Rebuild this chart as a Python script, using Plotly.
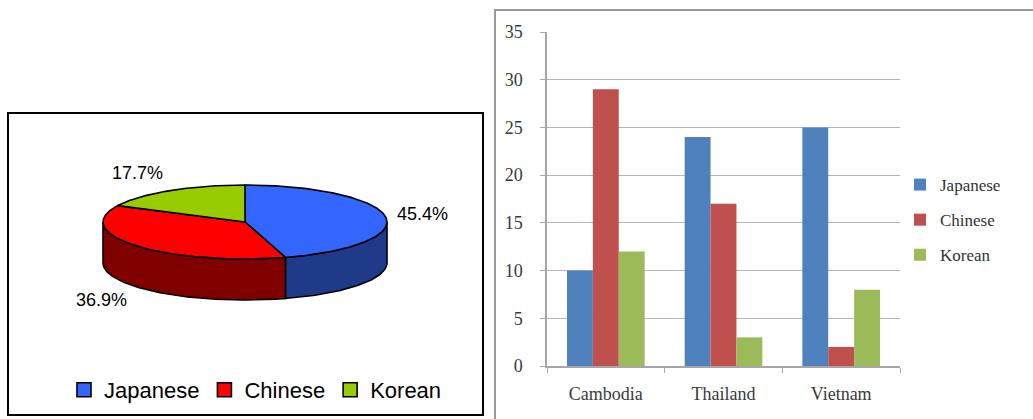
import numpy as np
import plotly.graph_objects as go

# ---------------- data ----------------
languages = ["Japanese", "Chinese", "Korean"]
share_pct = [45.4, 36.9, 17.7]
pie_top_colors = ["#3366FF", "#FF0000", "#99CC00"]
pie_side_colors = ["#1F3A88", "#800000", "#4D6600"]

countries = ["Cambodia", "Thailand", "Vietnam"]
japanese_vals = [10, 24, 25]
chinese_vals = [29, 17, 2]
korean_vals = [12, 3, 8]
bar_colors = ["#4F81BD", "#C0504D", "#9BBB59"]
y_tick_vals = [0, 5, 10, 15, 20, 25, 30, 35]

W, H = 1033, 419

fig = go.Figure()

# ---------------- 3D-look pie (pixel-space axes x/y) ----------------
CX, CY, RX, RY, DEPTH = 245, 222, 142, 37, 41


def ell(theta_deg, dy=0.0):
    t = np.radians(theta_deg)
    return CX + RX * np.cos(t), CY - RY * np.sin(t) + dy


total = sum(share_pct)
bounds = []
a = 90.0
for p in share_pct:
    span = 360.0 * p / total
    bounds.append((a, a - span))
    a -= span

# side walls (front half only), drawn first
for (s, e), col in zip(bounds, pie_side_colors):
    for k in (-2, -1, 0):
        lo, hi = -180 + 360 * k, 0 + 360 * k
        a0, a1 = min(s, hi), max(e, lo)
        if a0 - a1 <= 0.01:
            continue
        th = np.linspace(a0, a1, 80)
        xt, yt = ell(th)
        xb, yb = ell(th[::-1], DEPTH)
        xs = np.concatenate([xt, xb, xt[:1]])
        ys = np.concatenate([yt, yb, yt[:1]])
        fig.add_trace(go.Scatter(x=xs, y=ys, mode="lines", fill="toself",
                                 fillcolor=col, line=dict(color="black", width=1.6),
                                 showlegend=False, hoverinfo="skip",
                                 xaxis="x", yaxis="y"))

# top faces
for (s, e), col in zip(bounds, pie_top_colors):
    th = np.linspace(s, e, 160)
    xt, yt = ell(th)
    xs = np.concatenate([[CX], xt, [CX]])
    ys = np.concatenate([[CY], yt, [CY]])
    fig.add_trace(go.Scatter(x=xs, y=ys, mode="lines", fill="toself",
                             fillcolor=col, line=dict(color="black", width=1.6),
                             showlegend=False, hoverinfo="skip",
                             xaxis="x", yaxis="y"))

# pie legend entries
for lang, col in zip(languages, pie_top_colors):
    fig.add_trace(go.Scatter(x=[None], y=[None], mode="markers", name=lang,
                             marker=dict(symbol="square", size=14, color=col,
                                         line=dict(color="black", width=1.6)),
                             xaxis="x", yaxis="y", legend="legend"))

# pie percentage labels
annotations = []
for (s, e), p in zip(bounds, share_pct):
    mid = (s + e) / 2.0
    t = np.radians(mid)
    c, sn = np.cos(t), np.sin(t)
    lx = CX + 1.07 * RX * c
    ly = CY - 1.55 * RY * sn + (DEPTH if sn < 0 else 0)
    annotations.append(dict(x=lx, y=ly, xref="x", yref="y", text=f"{p:.1f}%",
                            showarrow=False, xanchor="left" if c >= 0 else "right",
                            yanchor="middle",
                            font=dict(family="Liberation Sans, Arial", size=18, color="black")))

# ---------------- bar chart (axes x2/y2) ----------------
for name, vals, col in zip(languages, [japanese_vals, chinese_vals, korean_vals], bar_colors):
    fig.add_trace(go.Bar(x=countries, y=vals, name=name, marker_color=col,
                         marker_line_width=0, xaxis="x2", yaxis="y2",
                         legend="legend2", legendgroup="bar_" + name))

shapes = [
    # pie frame
    dict(type="rect", xref="x", yref="y", x0=8, x1=483, y0=113, y1=415,
         line=dict(color="black", width=2), fillcolor="rgba(0,0,0,0)", layer="below"),
    # bar chart frame
    dict(type="rect", xref="paper", yref="paper", x0=495 / W, x1=1.05,
         y0=-0.05, y1=(H - 10) / H, line=dict(color="#9A9A9A", width=2),
         fillcolor="rgba(0,0,0,0)", layer="below"),
]

serif = "Liberation Serif, Times New Roman, serif"
axis_gray = "#A6A6A6"

fig.update_layout(
    width=W, height=H,
    margin=dict(l=0, r=0, t=0, b=0, autoexpand=False),
    paper_bgcolor="white", plot_bgcolor="rgba(0,0,0,0)",
    showlegend=True,
    barmode="group", bargap=0.34, bargroupgap=0,
    xaxis=dict(domain=[0, 490 / W], range=[0, 490], visible=False, fixedrange=True,
               automargin=False),
    yaxis=dict(domain=[0, 1], range=[H, 0], visible=False, fixedrange=True,
               automargin=False),
    xaxis2=dict(domain=[547 / W, 900 / W], anchor="y2", type="category",
                showline=True, linecolor=axis_gray, linewidth=1.5, automargin=False,
                ticks="outside", tickson="boundaries", ticklen=5, tickcolor=axis_gray,
                showgrid=False, ticklabelstandoff=11,
                tickfont=dict(family=serif, size=18, color="#3A3A3A")),
    yaxis2=dict(domain=[(H - 366) / H, (H - 32) / H], anchor="x2", range=[0, 35],
                tickvals=y_tick_vals, showgrid=True, gridcolor="#B4B4B4", gridwidth=1.3,
                showline=True, linecolor=axis_gray, linewidth=1.5, zeroline=False,
                automargin=False,
                ticks="outside", ticklen=5, tickcolor=axis_gray, ticklabelstandoff=14,
                tickfont=dict(family=serif, size=18, color="#3A3A3A")),
    legend=dict(orientation="h", x=64 / W, xanchor="left", y=(H - 390) / H, yanchor="middle",
                bgcolor="rgba(0,0,0,0)", borderwidth=0, itemclick=False,
                font=dict(family="Liberation Sans, Arial", size=22, color="black")),
    legend2=dict(orientation="v", x=900 / W, xanchor="left", y=(H - 167) / H, yanchor="top",
                 bgcolor="rgba(0,0,0,0)", borderwidth=0, tracegroupgap=10,
                 font=dict(family=serif, size=17, color="#333333")),
    shapes=shapes,
    annotations=annotations,
)

fig.write_html("out.html")
